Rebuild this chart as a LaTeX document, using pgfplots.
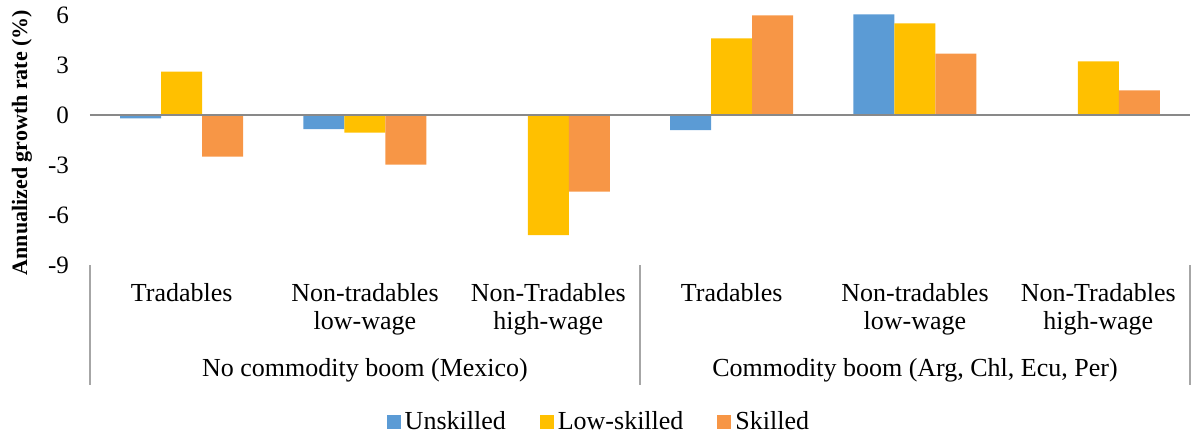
\documentclass[border=0pt]{standalone}
\usepackage{fontspec}
\setmainfont{Liberation Serif}
\usepackage{pgfplots}
\pgfplotsset{compat=1.18}
\definecolor{cUn}{HTML}{5B9BD5}
\definecolor{cLow}{HTML}{FFC000}
\definecolor{cSk}{HTML}{F79646}
\definecolor{zline}{HTML}{898989}
\definecolor{sepline}{HTML}{A6A6A6}
\begin{document}
\begin{tikzpicture}
\begin{axis}[
  at={(0,0)}, anchor=south west,
  scale only axis, width=550pt, height=125pt,
  ybar=0pt, bar width=20.5pt,
  xmin=-0.5, xmax=5.5, ymin=-9, ymax=6,
  ytick={-9,-6,-3,0,3,6},
  xtick={0,...,5},
  xticklabels={Tradables, {Non-tradables\\low-wage}, {Non-Tradables\\high-wage}, Tradables, {Non-tradables\\low-wage}, {Non-Tradables\\high-wage}},
  xticklabel style={align=center, font=\fontsize{13}{14}\selectfont, anchor=north, yshift=-5.5pt},
  yticklabel style={font=\fontsize{12.5}{14}\selectfont, xshift=-7pt},
  /pgf/number format/assume math mode=true,
  major tick length=0pt,
  axis line style={draw=none},
  clip=false,
  ylabel={Annualized growth rate (\%)},
  ylabel style={font=\fontsize{11}{12}\selectfont\bfseries, at={(axis description cs:-0.0618,0.49)}, anchor=center},
  legend style={at={(0.4636,0)}, anchor=north, yshift=-69pt, legend columns=3, draw=none, font=\fontsize{13}{14}\selectfont,
    /tikz/every even column/.append style={column sep=15pt}},
  legend image code/.code={\fill[#1] (0pt,-3.3pt) rectangle (7pt,3.7pt);},
]
\addplot[fill=cUn, draw=none] coordinates {(0,-0.2) (1,-0.84) (2,0) (3,-0.9) (4,6.04) (5,0)};
\addplot[fill=cLow, draw=none] coordinates {(0,2.6) (1,-1.06) (2,-7.2) (3,4.6) (4,5.5) (5,3.22)};
\addplot[fill=cSk, draw=none] coordinates {(0,-2.5) (1,-2.97) (2,-4.6) (3,5.98) (4,3.68) (5,1.48)};
\legend{Unskilled, Low-skilled, Skilled}
\draw[zline, line width=1pt] (axis cs:-0.5,0) -- (axis cs:5.5,0);
\draw[sepline, line width=0.6pt] (rel axis cs:0,0) -- ([yshift=-60pt]rel axis cs:0,0);
\draw[sepline, line width=0.6pt] (rel axis cs:0.5,0) -- ([yshift=-60pt]rel axis cs:0.5,0);
\draw[sepline, line width=0.6pt] (rel axis cs:1,0) -- ([yshift=-60pt]rel axis cs:1,0);
\node[anchor=base, yshift=-55.9pt, font=\fontsize{13}{14}\selectfont] at (rel axis cs:0.25,0) {No commodity boom (Mexico)};
\node[anchor=base, yshift=-55.9pt, font=\fontsize{13}{14}\selectfont] at (rel axis cs:0.75,0) {Commodity boom (Arg, Chl, Ecu, Per)};
\end{axis}
\pgfresetboundingbox
\path[use as bounding box] (-45pt,-87pt) rectangle (553pt,132.5pt);
\end{tikzpicture}
\end{document}
